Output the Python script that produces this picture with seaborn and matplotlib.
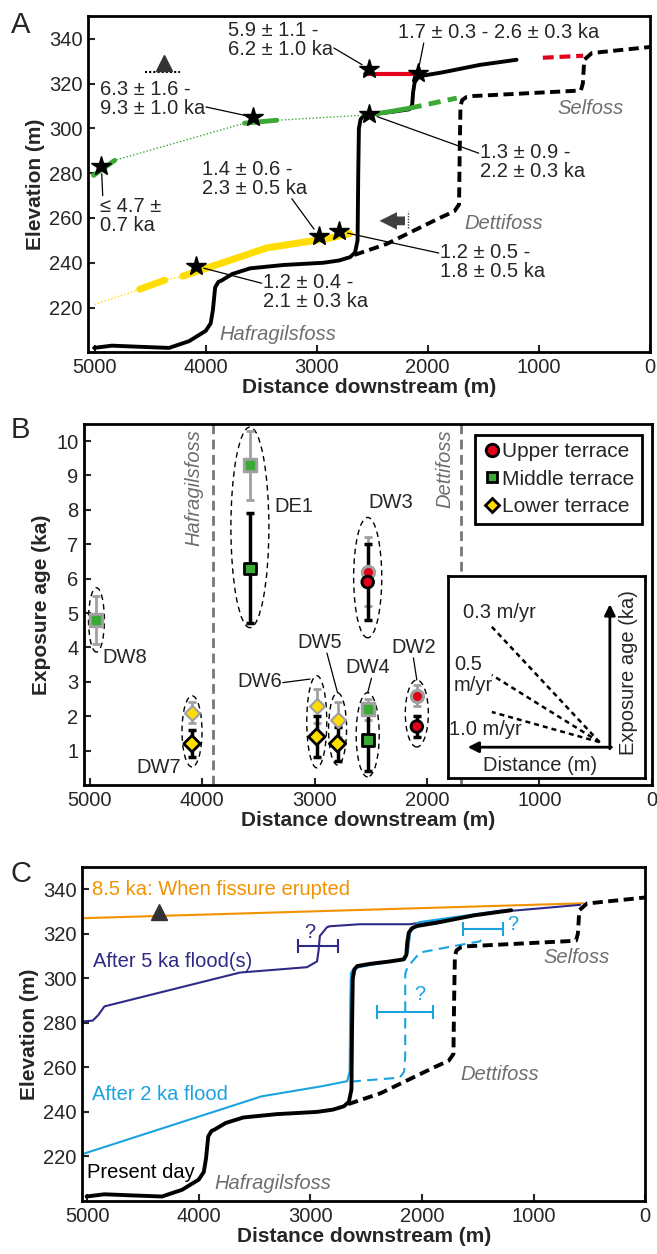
import numpy as np
import pandas as pd
import seaborn as sns
import matplotlib.pyplot as plt
from matplotlib.lines import Line2D
from matplotlib.patches import Ellipse

sns.set_theme(style='white')
plt.rcParams['font.family'] = ['Liberation Sans', 'DejaVu Sans']
plt.rcParams['font.size'] = 14

# ---- data ----------------------------------------------------------------
# present-day river long profile (distance downstream m, elevation m)
river_x = [5005, 4845, 4600, 4330, 4150, 4000, 3955, 3935, 3915, 3885, 3860, 3760, 3600,
           3300, 2940, 2800, 2700, 2655, 2632, 2626, 2620, 2605, 2580, 2466, 2300, 2165,
           2140, 2132, 2118, 2090, 2045, 1865, 1532, 1200]
river_y = [202, 203, 202.5, 202, 205, 209.6, 213, 219, 229, 231.5, 232, 235, 237.5,
           239, 240, 241, 242.5, 244.5, 250, 280, 300, 304, 305.5, 306.5, 307.5, 308.5,
           310.5, 316, 320.5, 322.5, 323.5, 325, 328.3, 330.6]
# reconstructed pre-retreat profile (dashed)
past_x = [2660, 2370, 1892, 1760, 1718, 1712, 1705, 1690, 1650, 1595, 690, 620, 603, 590, 522, 0]
past_y = [243.5, 248.4, 260, 263, 266, 290, 310, 312.6, 314, 314.4, 316.7, 317, 320, 330.6, 333.6, 336.3]

# terraces in panel A
red_x, red_y = [2568, 2100], [324.4, 324.4]
red_dash_x, red_dash_y = [963, 600], [331.5, 332.4]
green_x = [5010, 4820, 3650, 3360, 2530, 2300, 2163, 1739]
green_y = [279, 285.7, 302.3, 303.6, 306.0, 307.8, 309, 313.5]
yellow_x = [5000, 4595, 4370, 4208, 3451, 2883, 2703]
yellow_y = [221.4, 228.2, 232.2, 234, 246.6, 251, 253]

# sample sites
samples = ['DW8', 'DW7', 'DE1', 'DW6', 'DW5', 'DW4', 'DW3', 'DW2']
dist = [4940, 4090, 3575, 2980, 2795, 2527, 2527, 2090]
terrace = ['Middle', 'Lower', 'Middle', 'Lower', 'Lower', 'Middle', 'Upper', 'Upper']
age_hi = [4.8, 2.1, 9.3, 2.3, 1.9, 2.2, 6.2, 2.6]
err_hi = [0.7, 0.3, 1.0, 0.5, 0.5, 0.3, 1.0, 0.3]
age_lo = [np.nan, 1.2, 6.3, 1.4, 1.2, 1.3, 5.9, 1.7]
err_lo = [np.nan, 0.4, 1.6, 0.6, 0.5, 0.9, 1.1, 0.3]
star_elev = [283.4, 238.5, 305, 252, 254, 306.5, 326.5, 324.7]
age_text = ['\u2264 4.7 \u00b1\n0.7 ka', '1.2 \u00b1 0.4 -\n2.1 \u00b1 0.3 ka',
            '6.3 \u00b1 1.6 -\n9.3 \u00b1 1.0 ka', '1.4 \u00b1 0.6 -\n2.3 \u00b1 0.5 ka',
            '1.2 \u00b1 0.5 -\n1.8 \u00b1 0.5 ka', '1.3 \u00b1 0.9 -\n2.2 \u00b1 0.3 ka',
            '5.9 \u00b1 1.1 -\n6.2 \u00b1 1.0 ka', '1.7 \u00b1 0.3 - 2.6 \u00b1 0.3 ka']
ell_y = [4.8, 1.56, 7.49, 1.84, 1.63, 1.46, 6.03, 2.08]
ell_w = [142, 178, 338, 178, 160, 205, 250, 205]
ell_h = [1.87, 2.07, 5.83, 2.68, 2.1, 2.45, 3.5, 1.95]

# panel C reconstructions
fissure_x, fissure_y = [5045, 556], [327, 333.7]
flood5_x = [5045, 4950, 4900, 4845, 3630, 3030, 2940, 2925, 2915, 2850, 2825, 2555, 2108, 1270, 583]
flood5_y = [280.6, 281, 283.5, 287.4, 302.6, 305, 307.6, 313, 319, 323, 323.4, 324.3, 324.3, 330, 333]
flood2_x = [5045, 3436, 2900, 2670, 2648, 2642, 2636, 2610, 2466, 2150, 2125, 2105, 2030, 1270]
flood2_y = [221, 247, 251.5, 253.8, 258, 290, 302.5, 304.5, 306, 308.5, 312, 320.8, 325.2, 330.6]
flood2d_x = [2640, 2200, 2160, 2150, 2150, 2130, 2018, 1660, 1480, 1450]
flood2d_y = [253.6, 255.4, 258, 265, 302, 305, 311.6, 315, 316.6, 318.5]

RED, GREEN, YELLOW = '#E2001A', '#3BA935', '#FFDD00'
ORANGE, NAVY, CYAN = '#F39200', '#2E2A85', '#1BA3E0'
GRAY = '#6E6E6E'
FS = 14.5      # general text
LFS = 15       # bold axis labels

fig = plt.figure(figsize=(6.57, 12.54), dpi=100)
axA = fig.add_axes([0.134, 0.719, 0.855, 0.268])
axB = fig.add_axes([0.128, 0.374, 0.864, 0.288])
axC = fig.add_axes([0.125, 0.0423, 0.857, 0.2663])


def style(ax):
    for s in ax.spines.values():
        s.set_linewidth(2)
        s.set_color('black')
    ax.tick_params(direction='in', length=5, width=1.5, labelsize=14.5, pad=4,
                   left=True, bottom=True)
    ax.set_xticks([5000, 4000, 3000, 2000, 1000, 0])
    ax.set_xlabel('Distance downstream (m)', fontsize=LFS, fontweight='bold', labelpad=1)


def profile(ax, x, y, **kw):
    sns.lineplot(x=x, y=y, sort=False, estimator=None, ax=ax, **kw)


# ---- Panel A --------------------------------------------------------------
style(axA)
axA.set_xlim(5060, 0)
axA.set_ylim(200, 350)
axA.set_yticks([220, 240, 260, 280, 300, 320, 340])
axA.set_ylabel('Elevation (m)', fontsize=LFS, fontweight='bold', labelpad=3)

profile(axA, past_x, past_y, color='black', lw=2.8, dashes=(2.6, 1.4))
profile(axA, river_x, river_y, color='black', lw=2.8)
# terraces: thin dotted connectors, then thick mapped segments
profile(axA, green_x[:-1], green_y[:-1], color=GREEN, lw=1, ls=(0, (1, 1.5)))
profile(axA, yellow_x, yellow_y, color=YELLOW, lw=1, ls=(0, (1, 1.5)))
for i in [0, 2]:
    profile(axA, green_x[i:i + 2], green_y[i:i + 2], color=GREEN, lw=3.5)
profile(axA, green_x[4:7], green_y[4:7], color=GREEN, lw=3.5)
profile(axA, green_x[6:8], green_y[6:8], color=GREEN, lw=3.5, dashes=(2.5, 1.5))
profile(axA, yellow_x[1:3], yellow_y[1:3], color=YELLOW, lw=5)
profile(axA, yellow_x[3:], yellow_y[3:], color=YELLOW, lw=5)
profile(axA, red_x, red_y, color=RED, lw=3)
profile(axA, red_dash_x, red_dash_y, color=RED, lw=3, dashes=(2.6, 1.4))

axA.plot(dist, star_elev, ls='none', marker='*', ms=15, color='black', zorder=6)

# age labels: (text x, text top y, leader attachment on text box)
lab_pos = [(4955, 269.5, (0.05, 1.0)), (3487, 235.5, (0.0, 0.72)),
           (4955, 321.5, (1.0, 0.3)), (4036, 286, (0.85, 0.0)),
           (1892, 249, (0.0, 0.72)), (1532, 293.5, (0.0, 0.72)),
           (3802, 348, (1.0, 0.3)), (2270, 347, (0.13, 0.0))]
for d, e, t, (tx, ty, rp) in zip(dist, star_elev, age_text, lab_pos):
    axA.annotate(t, xy=(d, e), xytext=(tx, ty), ha='left', va='top', fontsize=FS,
                 linespacing=1.0,
                 bbox=dict(boxstyle='square,pad=0.05', fc='none', ec='none'),
                 arrowprops=dict(arrowstyle='-', lw=0.9, color='black', relpos=rp,
                                 shrinkA=0, shrinkB=6), zorder=7)

axA.plot([4380], [329], marker='^', ms=11, color='#333333', zorder=6)
axA.plot([4550, 4230], [325, 325], color='black', lw=1.5, ls=(0, (1, 1)))
axA.annotate('', xy=(2460, 258.7), xytext=(2180, 258.7),
             arrowprops=dict(arrowstyle='simple,head_length=0.9,head_width=0.9,tail_width=0.45',
                             color='#404040', lw=0, mutation_scale=14))
axA.plot([2180, 2180], [255.5, 263], color='#404040', lw=1, ls=(0, (1, 1)))

for x, y, t in [(3874, 208, 'Hafragilsfoss'), (1667, 257.4, 'Dettifoss'), (829, 309, 'Selfoss')]:
    axA.text(x, y, t, color=GRAY, style='italic', fontsize=FS, va='center', ha='left')

# ---- Panel B --------------------------------------------------------------
style(axB)
axB.set_xlim(5050, 0)
axB.set_ylim(0, 10.5)
axB.set_yticks(range(1, 11))
axB.set_ylabel('Exposure age (ka)', fontsize=LFS, fontweight='bold', labelpad=4)

for xv in [3900, 1700]:
    axB.axvline(xv, color='#777777', lw=2, dashes=(3.5, 2), zorder=1)
axB.text(4075, 10.35, 'Hafragilsfoss', rotation=90, ha='center', va='top',
         color=GRAY, style='italic', fontsize=FS)
axB.text(1842, 10.35, 'Dettifoss', rotation=90, ha='center', va='top',
         color=GRAY, style='italic', fontsize=FS)

tcol = {'Upper': RED, 'Middle': GREEN, 'Lower': YELLOW}
tmark = {'Upper': 'o', 'Middle': 's', 'Lower': 'D'}
df = pd.DataFrame({'sample': samples, 'dist': dist, 'terrace': terrace,
                   'age_hi': age_hi, 'err_hi': err_hi, 'age_lo': age_lo, 'err_lo': err_lo})

for _, r in df.iterrows():
    axB.errorbar(r['dist'], r['age_hi'], yerr=r['err_hi'], color='#A0A0A0', lw=2,
                 capsize=3, capthick=2, zorder=3)
    if not np.isnan(r['age_lo']):
        axB.errorbar(r['dist'], r['age_lo'], yerr=r['err_lo'], color='black', lw=2.5,
                     capsize=3, capthick=2.5, zorder=4)
for t in ['Upper', 'Middle', 'Lower']:
    sub = df[df['terrace'] == t]
    sz = 10 if t != 'Lower' else 8.5
    axB.plot(sub['dist'], sub['age_hi'], ls='none', marker=tmark[t], ms=sz,
             mfc='#A0A0A0', mec='#A0A0A0', zorder=5)
    axB.plot(sub['dist'], sub['age_hi'], ls='none', marker=tmark[t], ms=sz * 0.55,
             mfc=tcol[t], mec=tcol[t], zorder=6)
blk = df.dropna()
sns.scatterplot(data=blk, x='dist', y='age_lo', hue='terrace', style='terrace',
                palette=tcol, markers=tmark, s=70, edgecolor='black', linewidth=2,
                legend=False, ax=axB, zorder=7)

for d, cy, w, h in zip(dist, ell_y, ell_w, ell_h):
    axB.add_patch(Ellipse((d, cy), w, h, fill=False, ec='black', lw=1,
                          ls=(0, (4, 3)), zorder=2))

# sample labels: (x, y, leader attachment or None)
smp_lab = [(4884, 3.7, None), (4582, 0.5, None), (3354, 8.1, None),
           (3690, 3.0, (1.0, 0.45)), (3150, 4.14, (0.65, 0.0)),
           (2730, 3.41, (0.6, 0.0)), (2520, 8.22, None), (2320, 4.0, (0.5, 0.0))]
for d, cy, h, s, (tx, ty, rp) in zip(dist, ell_y, ell_h, samples, smp_lab):
    if rp is None:
        axB.text(tx, ty, s, ha='left', va='center', fontsize=FS)
    else:
        tgt = (d + 60, cy + h / 2 - 0.1) if s == 'DW6' else (d, cy + h / 2)
        axB.annotate(s, xy=tgt, xytext=(tx, ty), ha='left', va='center', fontsize=FS,
                     bbox=dict(boxstyle='square,pad=0.05', fc='none', ec='none'),
                     arrowprops=dict(arrowstyle='-', lw=0.9, color='black', relpos=rp,
                                     shrinkA=0, shrinkB=0))

handles = [Line2D([], [], ls='none', marker=tmark[t], mfc=tcol[t], mec='black', mew=2,
                  ms=9 if t == 'Upper' else 7.5) for t in ['Upper', 'Middle', 'Lower']]
leg = axB.legend(handles, ['Upper terrace', 'Middle terrace', 'Lower terrace'],
                 loc='upper right', bbox_to_anchor=(0.99, 0.982), fontsize=15,
                 frameon=True, fancybox=False, edgecolor='black', framealpha=1,
                 handletextpad=0.05, handlelength=0.9, borderpad=0.35, labelspacing=0.42,
                 borderaxespad=0.2)
leg.get_frame().set_linewidth(2)

# inset schematic
ins = axB.inset_axes([0.641, 0.019, 0.347, 0.56])
ins.set_xlim(0, 1)
ins.set_ylim(0, 1)
ins.set_xticks([])
ins.set_yticks([])
for s in ins.spines.values():
    s.set_linewidth(2)
    s.set_color('black')
ins.set_facecolor('white')
ins.annotate('', xy=(0.822, 0.86), xytext=(0.822, 0.145),
             arrowprops=dict(arrowstyle='-|>', lw=2, color='black', mutation_scale=16,
                             shrinkA=0, shrinkB=0))
ins.annotate('', xy=(0.10, 0.153), xytext=(0.83, 0.153),
             arrowprops=dict(arrowstyle='-|>', lw=2, color='black', mutation_scale=16,
                             shrinkA=0, shrinkB=0))
rates = ['0.3 m/yr', '0.5\nm/yr', '1.0 m/yr']
rate_end = [0.748, 0.51, 0.327]
rate_lab = [(0.076, 0.817), (0.03, 0.51), (0.005, 0.24)]
for r, ye, (lx, ly) in zip(rates, rate_end, rate_lab):
    ins.plot([0.77, 0.223], [0.178, ye], color='black', lw=1.8, ls=(0, (2, 1.6)))
    ins.text(lx, ly, r, fontsize=FS, ha='left', va='center', linespacing=1.15)
ins.text(0.47, 0.064, 'Distance (m)', fontsize=FS, ha='center', va='center')
ins.text(0.915, 0.52, 'Exposure age (ka)', fontsize=FS, ha='center', va='center',
         rotation=90)

# ---- Panel C --------------------------------------------------------------
style(axC)
axC.set_xlim(5045, 0)
axC.set_ylim(200, 350)
axC.set_yticks([220, 240, 260, 280, 300, 320, 340])
axC.set_ylabel('Elevation (m)', fontsize=LFS, fontweight='bold', labelpad=3)

profile(axC, fissure_x, fissure_y, color=ORANGE, lw=1.5)
profile(axC, flood5_x, flood5_y, color=NAVY, lw=1.5)
profile(axC, flood2_x, flood2_y, color=CYAN, lw=1.5)
profile(axC, flood2d_x, flood2d_y, color=CYAN, lw=1.5, dashes=(5, 3))
profile(axC, past_x, past_y, color='black', lw=2.8, dashes=(2.6, 1.4))
profile(axC, river_x, river_y, color='black', lw=2.8)
axC.plot([4355], [330], marker='^', ms=11, color='#333333', zorder=6)

axC.errorbar(2930, 314.4, xerr=177, color=NAVY, lw=1.5, capsize=5, capthick=1.5)
axC.errorbar(2150, 285, xerr=250, color=CYAN, lw=1.5, capsize=5, capthick=1.5)
axC.errorbar(1450, 322, xerr=180, color=CYAN, lw=1.5, capsize=5, capthick=1.5)
axC.text(3005, 320.6, '?', color=NAVY, fontsize=FS, ha='center', va='center')
axC.text(2018, 292.7, '?', color=CYAN, fontsize=FS, ha='center', va='center')
axC.text(1190, 324, '?', color=CYAN, fontsize=FS, ha='center', va='center')

axC.text(4960, 340, '8.5 ka: When fissure erupted', color=ORANGE, fontsize=FS, va='center')
axC.text(4951, 307.6, 'After 5 ka flood(s)', color=NAVY, fontsize=FS, va='center')
axC.text(4960, 247.8, 'After 2 ka flood', color=CYAN, fontsize=FS, va='center')
axC.text(5005, 212.7, 'Present day', color='black', fontsize=FS, va='center')
for x, y, t in [(3857, 208, 'Hafragilsfoss'), (1660, 256.7, 'Dettifoss'), (915, 309.4, 'Selfoss')]:
    axC.text(x, y, t, color=GRAY, style='italic', fontsize=FS, va='center', ha='left')

for lab, yy in [('A', 0.980), ('B', 0.657), ('C', 0.303)]:
    fig.text(0.016, yy, lab, fontsize=21, ha='left', va='center')

fig.savefig('out.png', dpi=100)
